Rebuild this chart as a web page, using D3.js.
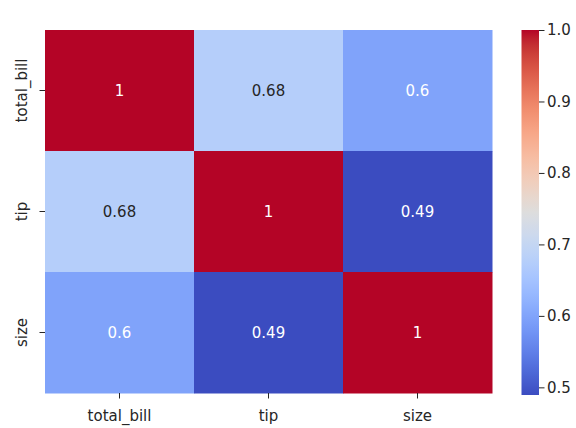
<!DOCTYPE html>
<html><head><meta charset="utf-8">
<script src="https://cdn.jsdelivr.net/npm/d3@7"></script>
<style>body{margin:0;background:#fff}svg{display:block}</style>
</head><body>
<svg id="c" width="576" height="428"></svg>
<script>
const labels = ["total_bill", "tip", "size"];
const matrix = [
  [1.0, 0.675734, 0.598315],
  [0.675734, 1.0, 0.489299],
  [0.598315, 0.489299, 1.0]
];
const annot = [
  ["1", "0.68", "0.6"],
  ["0.68", "1", "0.49"],
  ["0.6", "0.49", "1"]
];
const cbarTicks = [0.5, 0.6, 0.7, 0.8, 0.9, 1.0];
const coolwarm = [[59,76,192],[68,90,204],[77,104,215],[87,117,225],[98,130,234],[108,142,241],[119,154,247],[130,165,251],[141,176,254],[152,185,255],[163,194,255],[174,201,253],[184,208,249],[194,213,244],[204,217,238],[213,219,230],[221,221,221],[229,216,209],[236,211,197],[241,204,185],[245,196,173],[247,187,160],[247,177,148],[247,166,135],[244,154,123],[241,141,111],[236,127,99],[229,112,88],[222,96,77],[213,80,66],[203,62,56],[192,40,47],[180,4,38]];

const vmin = d3.min(matrix.flat()), vmax = d3.max(matrix.flat());
const interp = d3.piecewise(d3.interpolateRgb, coolwarm.map(c => d3.rgb(c[0], c[1], c[2])));
const color = v => interp((v - vmin) / (vmax - vmin));
function relLum(c) {
  const f = u => { u /= 255; return u <= 0.03928 ? u / 12.92 : Math.pow((u + 0.055) / 1.055, 2.4); };
  return 0.2126 * f(c.r) + 0.7152 * f(c.g) + 0.0722 * f(c.b);
}

const svg = d3.select("#c");
const font = "DejaVu Sans, sans-serif";
const fs = 15;
const L = 45, R = 492, T = 30, B = 393;
const x = d3.scaleBand().domain(labels).range([L, R]);
const y = d3.scaleBand().domain(labels).range([T, B]);

const g = svg.append("g");
matrix.forEach((row, i) => row.forEach((v, j) => {
  g.append("rect").attr("x", x(labels[j])).attr("y", y(labels[i]))
    .attr("width", x.bandwidth() + 0.5).attr("height", y.bandwidth() + 0.5)
    .attr("fill", color(v));
  const c = d3.rgb(color(v));
  g.append("text").attr("x", x(labels[j]) + x.bandwidth() / 2).attr("y", y(labels[i]) + y.bandwidth() / 2)
    .attr("text-anchor", "middle").attr("dominant-baseline", "central")
    .attr("font-family", font).attr("font-size", fs)
    .attr("fill", relLum(c) > 0.408 ? "#262626" : "#ffffff").text(annot[i][j]);
}));

const xa = svg.append("g").attr("transform", `translate(0,${B})`)
  .call(d3.axisBottom(x).tickSize(5.5).tickPadding(11.5));
const ya = svg.append("g").attr("transform", `translate(${L},0)`)
  .call(d3.axisLeft(y).tickSize(5.5).tickPadding(4));
[xa, ya].forEach(a => {
  a.select(".domain").remove();
  a.selectAll("line").attr("stroke", "#262626");
  a.selectAll("text").attr("font-family", font).attr("font-size", fs).attr("fill", "#262626");
});
ya.selectAll(".tick text").each(function() {
  d3.select(this).attr("text-anchor", "middle").attr("dy", null).attr("x", null)
    .attr("transform", "translate(-23.5,0) rotate(-90)").attr("dominant-baseline", "central");
});

// colorbar
const cx0 = 521.5, cw = 17.5, cT = 30, cB = 395;
const cy = d3.scaleLinear().domain([vmin, vmax]).range([cB, cT]);
const defs = svg.append("defs");
const grad = defs.append("linearGradient").attr("id", "cg").attr("x1", 0).attr("y1", 1).attr("x2", 0).attr("y2", 0);
d3.range(0, 1.0001, 0.02).forEach(t => grad.append("stop").attr("offset", t).attr("stop-color", interp(t)));
svg.append("rect").attr("x", cx0).attr("y", cT).attr("width", cw).attr("height", cB - cT).attr("fill", "url(#cg)");
const ca = svg.append("g").attr("transform", `translate(${cx0 + cw},0)`)
  .call(d3.axisRight(cy).tickValues(cbarTicks).tickFormat(d3.format(".1f")).tickSize(5.5).tickPadding(2.5));
ca.select(".domain").remove();
ca.selectAll("line").attr("stroke", "#262626");
ca.selectAll("text").attr("font-family", font).attr("font-size", fs).attr("fill", "#262626");
</script>
</body></html>
